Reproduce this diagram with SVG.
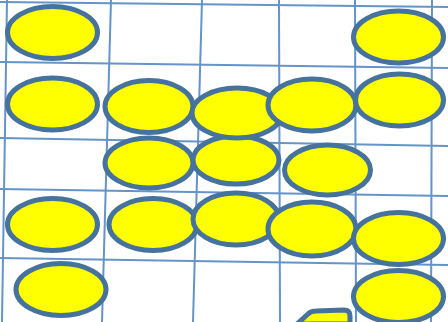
<svg xmlns="http://www.w3.org/2000/svg" width="448" height="322" viewBox="0 0 448 322">
<style>
.g line{stroke:#6494c8;stroke-width:2}
.e{fill:#ffff00;stroke:#46729e;stroke-width:5}
</style>
<rect width="448" height="322" fill="#ffffff"/>
<g class="g" id="grid">
<line x1="7" y1="0" x2="2" y2="322"/>
<line x1="111" y1="0" x2="102" y2="322"/>
<line x1="202" y1="0" x2="193" y2="322"/>
<line x1="279" y1="0" x2="280" y2="322"/>
<line x1="355" y1="0" x2="356" y2="322"/>
<line x1="432" y1="0" x2="431" y2="322"/>
<line x1="0" y1="2" x2="448" y2="7"/>
<line x1="0" y1="62" x2="448" y2="68"/>
<line x1="0" y1="138" x2="448" y2="146"/>
<line x1="0" y1="189" x2="448" y2="196"/>
<line x1="0" y1="258" x2="448" y2="265"/>
</g>
<g id="n1"><ellipse class="e" cx="52.5" cy="32.5" rx="45" ry="26"/></g>
<g id="n2"><ellipse class="e" cx="398.5" cy="37" rx="45" ry="26"/></g>
<g id="n3"><ellipse class="e" cx="52.5" cy="104" rx="45" ry="26"/></g>
<g id="n4"><ellipse class="e" cx="149" cy="106.5" rx="44" ry="26"/></g>
<g id="n5"><ellipse class="e" cx="149" cy="163" rx="44" ry="25"/></g>
<g id="n6"><ellipse class="e" cx="236" cy="160" rx="43" ry="24"/></g>
<g id="n7"><ellipse class="e" cx="237" cy="113" rx="45" ry="25"/></g>
<g id="n8"><ellipse class="e" cx="312" cy="105" rx="44" ry="26"/></g>
<g id="n9"><ellipse class="e" cx="399.5" cy="100" rx="44" ry="26"/></g>
<g id="n10"><ellipse class="e" cx="327.5" cy="170" rx="43" ry="25"/></g>
<g id="n11"><ellipse class="e" cx="52.5" cy="224.5" rx="45" ry="26"/></g>
<g id="n12"><ellipse class="e" cx="153" cy="224.5" rx="44" ry="26"/></g>
<g id="n13"><ellipse class="e" cx="236" cy="219" rx="43" ry="26"/></g>
<g id="n14"><ellipse class="e" cx="312" cy="229" rx="44" ry="27"/></g>
<g id="n15"><ellipse class="e" cx="398.5" cy="238.5" rx="45" ry="26"/></g>
<g id="n16"><ellipse class="e" cx="61" cy="289.5" rx="45" ry="26"/></g>
<g id="n17"><ellipse class="e" cx="398.5" cy="296.5" rx="45" ry="26"/></g>
<g id="n18"><path class="e" d="M297,324 L308,314 Q311,311 316,311 L344,310 Q350,310 350,316 L350,324 Z"/></g>
<g id="connectors"></g>
</svg>
